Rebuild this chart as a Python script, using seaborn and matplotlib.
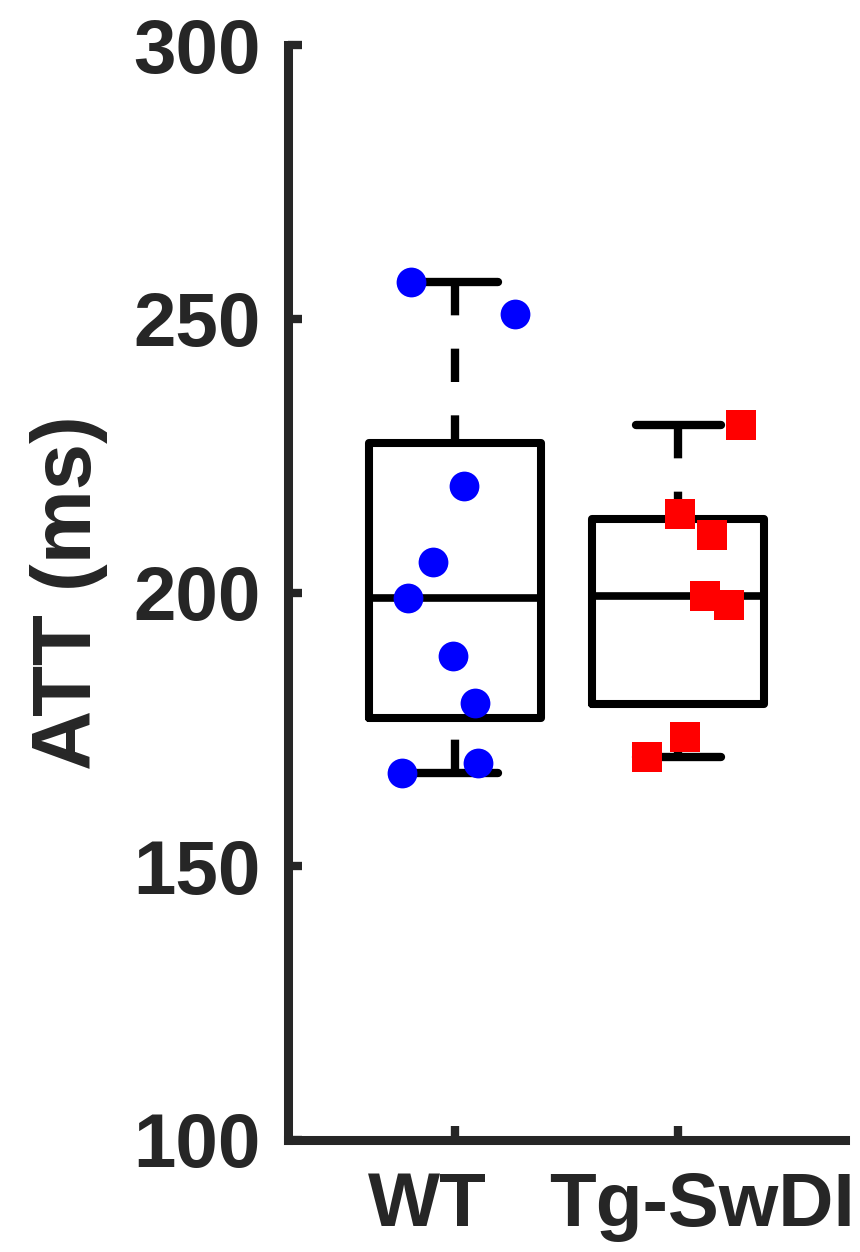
import numpy as np
import pandas as pd
import seaborn as sns
import matplotlib.pyplot as plt
from matplotlib.transforms import ScaledTranslation

# values (ATT in ms), with the horizontal jitter of each dot
groups = ['WT', 'Tg-SwDI']
wt_att = [256.7, 250.9, 219.5, 205.6, 199.0, 188.4, 179.8, 168.9, 167.0]
wt_jitter = [-0.20, 0.27, 0.04, -0.10, -0.21, -0.01, 0.09, 0.10, -0.24]
tg_att = [230.6, 214.3, 210.5, 199.4, 197.7, 173.6, 170.0]
tg_jitter = [0.28, 0.01, 0.15, 0.12, 0.23, 0.03, -0.14]
yticks = [100, 150, 200, 250, 300]

sns.set_style('ticks')
plt.rcParams['font.family'] = ['Liberation Sans', 'DejaVu Sans']
plt.rcParams['font.weight'] = 'bold'
ink = '#262626'

fig = plt.figure(figsize=(8.6, 12.52), dpi=100)
ax = fig.add_axes([0.335, 0.0895, 0.648, 0.8745])

# boxes with MATLAB-style quartiles (hazen), whiskers to min/max
stats = []
for vals in [wt_att, tg_att]:
    v = np.array(vals)
    q1, med, q3 = np.percentile(v, [25, 50, 75], method='hazen')
    stats.append(dict(med=med, q1=q1, q3=q3, whislo=v.min(), whishi=v.max(), fliers=[]))

art = ax.bxp(stats, positions=[0, 1], widths=0.77, capwidths=0.38, showfliers=False,
             boxprops=dict(color='black', linewidth=5.8, solid_joinstyle='round'),
             medianprops=dict(color='black', linewidth=5.5),
             whiskerprops=dict(color='black', linewidth=6, linestyle=(0, (4, 4)),
                               dash_capstyle='butt'),
             capprops=dict(color='black', linewidth=6))
# dash pattern starts at the cap, like the original
for w in art['whiskers']:
    x, y = w.get_data()
    w.set_data(x[::-1], y[::-1])

wt = pd.DataFrame({'x': [0 + j for j in wt_jitter], 'att': wt_att})
tg = pd.DataFrame({'x': [1 + j for j in tg_jitter], 'att': tg_att})
sns.scatterplot(data=wt, x='x', y='att', color='#0000FF', marker='o', s=460,
                linewidth=0, ax=ax, zorder=3)
sns.scatterplot(data=tg, x='x', y='att', color='#FF0000', marker='s', s=440,
                linewidth=0, ax=ax, zorder=3)

ax.set_xlim(-0.75, 1.75)
ax.set_ylim(100, 300)
ax.set_yticks(yticks)
ax.set_xticks([0, 1])
ax.set_xticklabels(groups)
ax.set_xlabel('')
ax.set_ylabel('ATT (ms)', fontsize=60, fontweight='bold', color=ink, labelpad=18)

sns.despine(ax=ax)
for s in ['left', 'bottom']:
    ax.spines[s].set_linewidth(6.5)
    ax.spines[s].set_color(ink)
ax.tick_params(direction='in', length=10, width=6, color=ink, labelcolor=ink,
               labelsize=55)
ax.tick_params(axis='y', pad=20)
ax.tick_params(axis='x', pad=22)
for lab in ax.get_yticklabels() + ax.get_xticklabels():
    lab.set_fontweight('bold')

# the two group labels sit a little apart from their ticks in the original
shifts = [-0.28, 0.24]
for lab, dx in zip(ax.get_xticklabels(), shifts):
    lab.set_transform(lab.get_transform() + ScaledTranslation(dx, 0, fig.dpi_scale_trans))

fig.savefig('out.png', dpi=100)
